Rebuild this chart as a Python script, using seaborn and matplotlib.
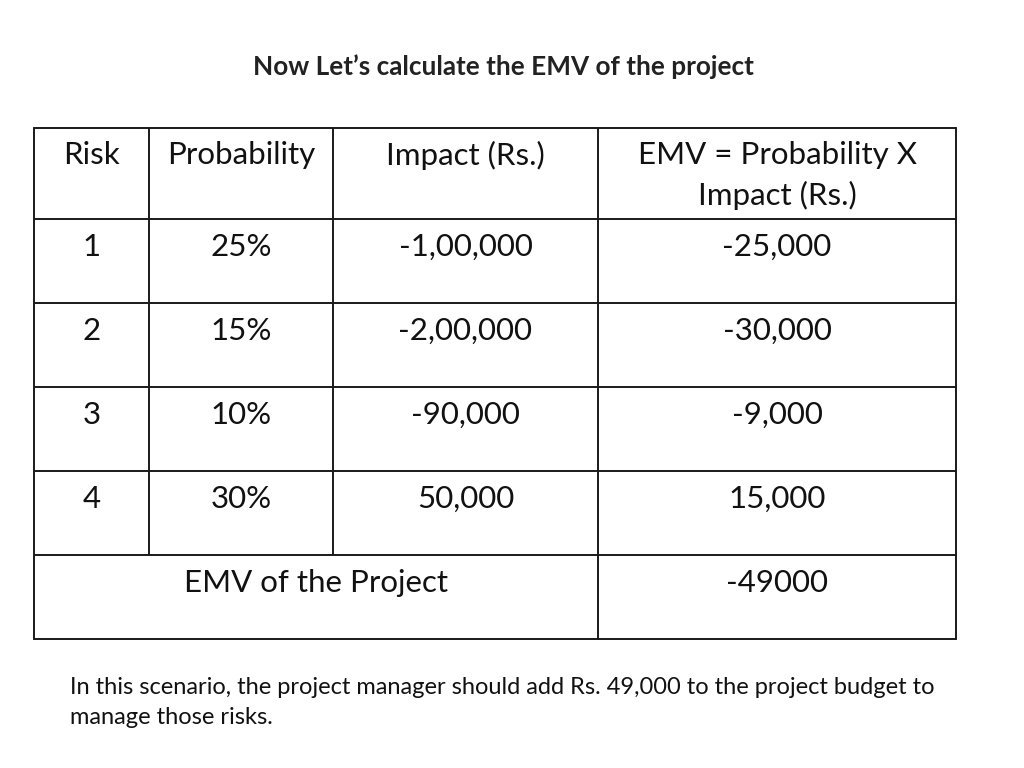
import seaborn as sns
import matplotlib.pyplot as plt

# table contents
headers = ["Risk", "Probability", "Impact (Rs.)", "EMV = Probability X\nImpact (Rs.)"]
risks = ["1", "2", "3", "4"]
probabilities = ["25%", "15%", "10%", "30%"]
impacts = ["-1,00,000", "-2,00,000", "-90,000", "50,000"]
emvs = ["-25,000", "-30,000", "-9,000", "15,000"]
total_label = "EMV of the Project"
total_emv = "-49000"

title = "Now Let\u2019s calculate the EMV of the project"
note_lines = ["In this scenario, the project manager should add Rs. 49,000 to the project budget to",
              "manage those risks."]

sns.set_theme(style="white")
plt.rcParams['font.family'] = ['Lato', 'DejaVu Sans']

fig = plt.figure(figsize=(10.24, 7.68), dpi=100)
ax = fig.add_axes([0, 0, 1, 1])
ax.set_xlim(0, 1024)
ax.set_ylim(768, 0)
ax.axis("off")

# layout in pixels
col_edges = [34, 149, 333, 598, 956]
row_edges = [128, 219, 303, 387, 471, 555, 639]
line_kw = dict(color="#1a1a1a", lw=1.4)
fs = 22.5
txt = "#111111"

# horizontal lines
for y in row_edges:
    ax.plot([col_edges[0], col_edges[-1]], [y, y], **line_kw)
# vertical lines (inner ones stop above the merged last row)
for i, x in enumerate(col_edges):
    bottom = row_edges[-1] if i in (0, 3, 4) else row_edges[-2]
    ax.plot([x, x], [row_edges[0], bottom], **line_kw)

centers = [(col_edges[i] + col_edges[i + 1]) / 2 for i in range(4)]

for c, h in zip(centers, headers):
    for k, ln in enumerate(h.split("\n")):
        ax.text(c, row_edges[0] + 27 + 40 * k, ln, ha="center", va="center",
                fontsize=fs, color=txt)

columns = [risks, probabilities, impacts, emvs]
for r in range(len(risks)):
    y = row_edges[r + 1] + 28
    for c, col in zip(centers, columns):
        ax.text(c, y, col[r], ha="center", va="center", fontsize=fs, color=txt)

y = row_edges[5] + 28
ax.text((col_edges[0] + col_edges[3]) / 2, y, total_label, ha="center", va="center",
        fontsize=fs, color=txt)
ax.text(centers[3], y, total_emv, ha="center", va="center", fontsize=fs, color=txt)

ax.text(503, 67, title, ha="center", va="center", fontsize=18.8, fontweight="bold", color="#222222")
for k, ln in enumerate(note_lines):
    ax.text(70, 687 + 30 * k, ln, ha="left", va="center", fontsize=17, color=txt)

fig.savefig("out.png", dpi=100)
